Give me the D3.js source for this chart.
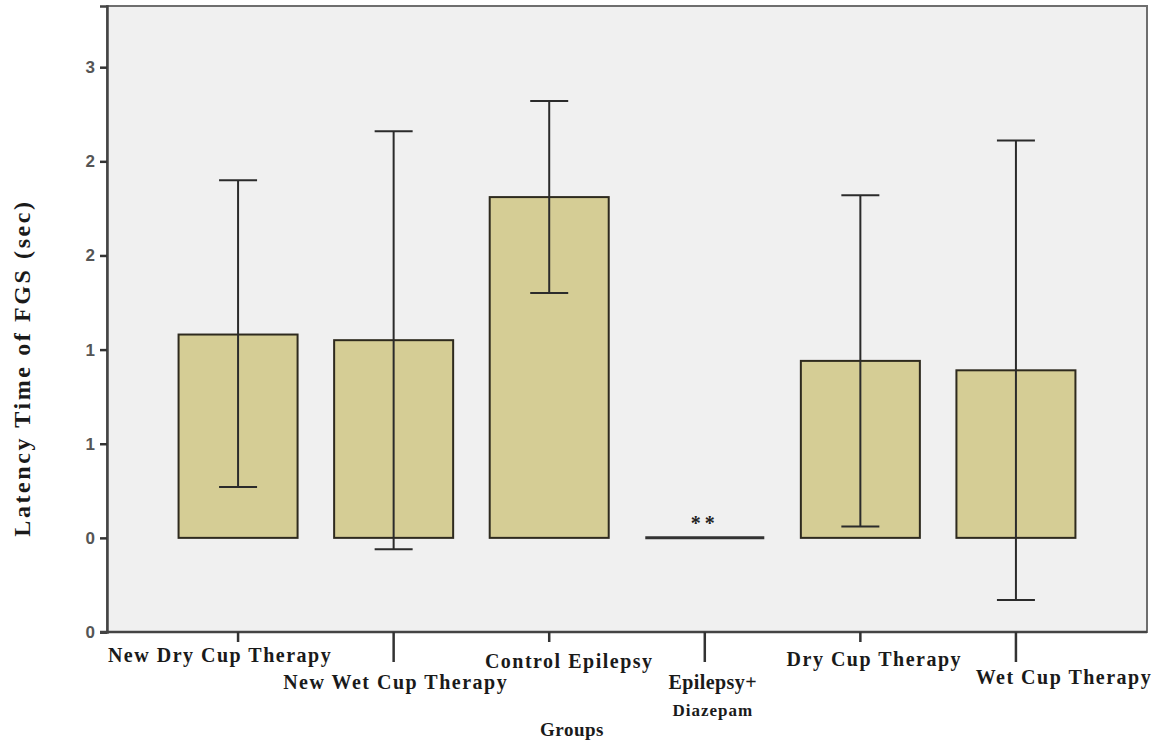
<!DOCTYPE html>
<html>
<head>
<meta charset="utf-8">
<script src="https://cdn.jsdelivr.net/npm/d3@7/dist/d3.min.js"></script>
<style>
  html, body { margin: 0; padding: 0; background: #ffffff; }
  svg { display: block; }
</style>
</head>
<body>
<svg id="chart" width="1163" height="745"></svg>
<script>
// Group names and line breaks used for the category labels
const groups = ["New Dry Cup Therapy", "New Wet Cup Therapy", "Control Epilepsy",
                "Epilepsy+ Diazepam", "Dry Cup Therapy", "Wet Cup Therapy"];
const groupLines = [["New Dry Cup Therapy"], ["New Wet Cup Therapy"], ["Control Epilepsy"],
                    ["Epilepsy+", "Diazepam"], ["Dry Cup Therapy"], ["Wet Cup Therapy"]];
// Mean latency (sec) and error-bar limits
const means = [1.08, 1.05, 1.81, 0.00, 0.94, 0.89];
const upper = [1.90, 2.16, 2.32, 0.00, 1.82, 2.11];
const lower = [0.27, -0.06, 1.30, 0.00, 0.06, -0.33];
// Significance marks above bars
const marks = ["", "", "", "**", "", ""];
// Y tick values and their printed labels (rounded to whole numbers)
const yTickValues = [-0.5, 0, 0.5, 1, 1.5, 2, 2.5];
const yTickLabels = ["0", "0", "1", "1", "2", "2", "3"];

const svg = d3.select("#chart");
const plot = { left: 107, top: 6, right: 1147, bottom: 632 };

const x = d3.scaleBand()
  .domain(groups)
  .range([plot.left, plot.right])
  .paddingInner(0.235)
  .paddingOuter(0.46);

const y = d3.scaleLinear()
  .domain([-0.5, 2.825])
  .range([plot.bottom, plot.top]);

// plot background and frame
svg.append("rect")
  .attr("x", plot.left).attr("y", plot.top)
  .attr("width", plot.right - plot.left).attr("height", plot.bottom - plot.top)
  .attr("fill", "#f0f0f0")
  .attr("stroke", "#6e6e6e").attr("stroke-width", 2);

// bars
const barFill = "#d5cd95";
const barStroke = "#2e2a1e";
const rows = groups.map((g, i) => ({ g, i, m: means[i], hi: upper[i], lo: lower[i], mark: marks[i] }));

svg.append("g").selectAll("rect")
  .data(rows.filter(d => d.m !== 0))
  .join("rect")
  .attr("x", d => x(d.g))
  .attr("y", d => y(d.m))
  .attr("width", x.bandwidth())
  .attr("height", d => y(0) - y(d.m))
  .attr("fill", barFill)
  .attr("stroke", barStroke)
  .attr("stroke-width", 2);

// zero-height group drawn as a flat line
svg.append("g").selectAll("line")
  .data(rows.filter(d => d.m === 0))
  .join("line")
  .attr("x1", d => x(d.g)).attr("x2", d => x(d.g) + x.bandwidth())
  .attr("y1", d => y(d.m)).attr("y2", d => y(d.m))
  .attr("stroke", "#333").attr("stroke-width", 3);

// error bars
const capW = 38;
const eb = svg.append("g").attr("stroke", "#2b2b2b").attr("stroke-width", 2)
  .selectAll("g").data(rows.filter(d => d.hi !== d.lo)).join("g");
eb.append("line")
  .attr("x1", d => x(d.g) + x.bandwidth() / 2).attr("x2", d => x(d.g) + x.bandwidth() / 2)
  .attr("y1", d => y(d.hi)).attr("y2", d => y(d.lo));
eb.append("line")
  .attr("x1", d => x(d.g) + x.bandwidth() / 2 - capW / 2).attr("x2", d => x(d.g) + x.bandwidth() / 2 + capW / 2)
  .attr("y1", d => y(d.hi)).attr("y2", d => y(d.hi));
eb.append("line")
  .attr("x1", d => x(d.g) + x.bandwidth() / 2 - capW / 2).attr("x2", d => x(d.g) + x.bandwidth() / 2 + capW / 2)
  .attr("y1", d => y(d.lo)).attr("y2", d => y(d.lo));

// significance stars
svg.append("g").selectAll("text")
  .data(rows.filter(d => d.mark))
  .join("text")
  .attr("x", d => x(d.g) + x.bandwidth() / 2)
  .attr("y", d => y(d.hi) - 8)
  .attr("text-anchor", "middle")
  .attr("font-family", "Liberation Serif, serif")
  .attr("font-weight", "bold")
  .attr("font-size", 20)
  .attr("letter-spacing", 4)
  .attr("fill", "#222")
  .text(d => d.mark);

// y axis
const yAxis = d3.axisLeft(y)
  .tickValues(yTickValues)
  .tickFormat((d, i) => yTickLabels[i])
  .tickSize(7)
  .tickPadding(5);
const yg = svg.append("g").attr("transform", `translate(${plot.left},0)`).call(yAxis);
yg.select(".domain").attr("stroke", "#444").attr("stroke-width", 2.5);
yg.selectAll(".tick line").attr("stroke", "#333").attr("stroke-width", 2.5);
yg.selectAll(".tick text")
  .attr("font-family", "Liberation Sans, Arial, sans-serif")
  .attr("font-size", 17)
  .attr("font-weight", "bold")
  .attr("fill", "#555");

// x axis with alternating tick lengths
const xg = svg.append("g");
xg.append("line")
  .attr("x1", plot.left - 7).attr("x2", plot.right)
  .attr("y1", plot.bottom).attr("y2", plot.bottom)
  .attr("stroke", "#444").attr("stroke-width", 2.5);
xg.selectAll("line.tick")
  .data(groups)
  .join("line")
  .attr("class", "tick")
  .attr("x1", d => x(d) + x.bandwidth() / 2).attr("x2", d => x(d) + x.bandwidth() / 2)
  .attr("y1", plot.bottom)
  .attr("y2", (d, i) => plot.bottom + (i % 2 === 0 ? 10 : 30))
  .attr("stroke", "#333").attr("stroke-width", 2.5);

// category labels: horizontal nudge and baseline for each
const labelNudge = [-18, 2, 20, 8, 14, 48];
const labelBase = [662, 689, 668, 689, 666, 684];
const lbl = xg.selectAll("text.cat")
  .data(rows)
  .join("text")
  .attr("class", "cat")
  .attr("text-anchor", "middle")
  .attr("font-family", "Liberation Serif, 'Times New Roman', serif")
  .attr("font-weight", "bold")
  .attr("fill", "#1a1a1a")
  .attr("x", d => x(d.g) + x.bandwidth() / 2 + labelNudge[d.i])
  .attr("y", d => labelBase[d.i]);
lbl.each(function (d) {
  const t = d3.select(this);
  groupLines[d.i].forEach((line, k) => {
    t.append("tspan")
      .attr("x", x(d.g) + x.bandwidth() / 2 + labelNudge[d.i])
      .attr("dy", k === 0 ? 0 : 27)
      .attr("font-size", k === 0 ? 20 : 17)
      .attr("letter-spacing", k === 0 ? (groupLines[d.i].length > 1 ? 0.4 : 1.5) : 1)
      .text(line);
  });
});

// axis titles
svg.append("text")
  .attr("x", 572).attr("y", 736)
  .attr("text-anchor", "middle")
  .attr("font-family", "Liberation Serif, 'Times New Roman', serif")
  .attr("font-weight", "bold")
  .attr("font-size", 19)
  .attr("letter-spacing", 0.5)
  .attr("fill", "#1a1a1a")
  .text("Groups");

svg.append("text")
  .attr("transform", "translate(30,368) rotate(-90)")
  .attr("text-anchor", "middle")
  .attr("font-family", "Liberation Serif, 'Times New Roman', serif")
  .attr("font-weight", "bold")
  .attr("font-size", 24)
  .attr("letter-spacing", 2.6)
  .attr("fill", "#1a1a1a")
  .text("Latency Time of FGS (sec)");
</script>
</body>
</html>
